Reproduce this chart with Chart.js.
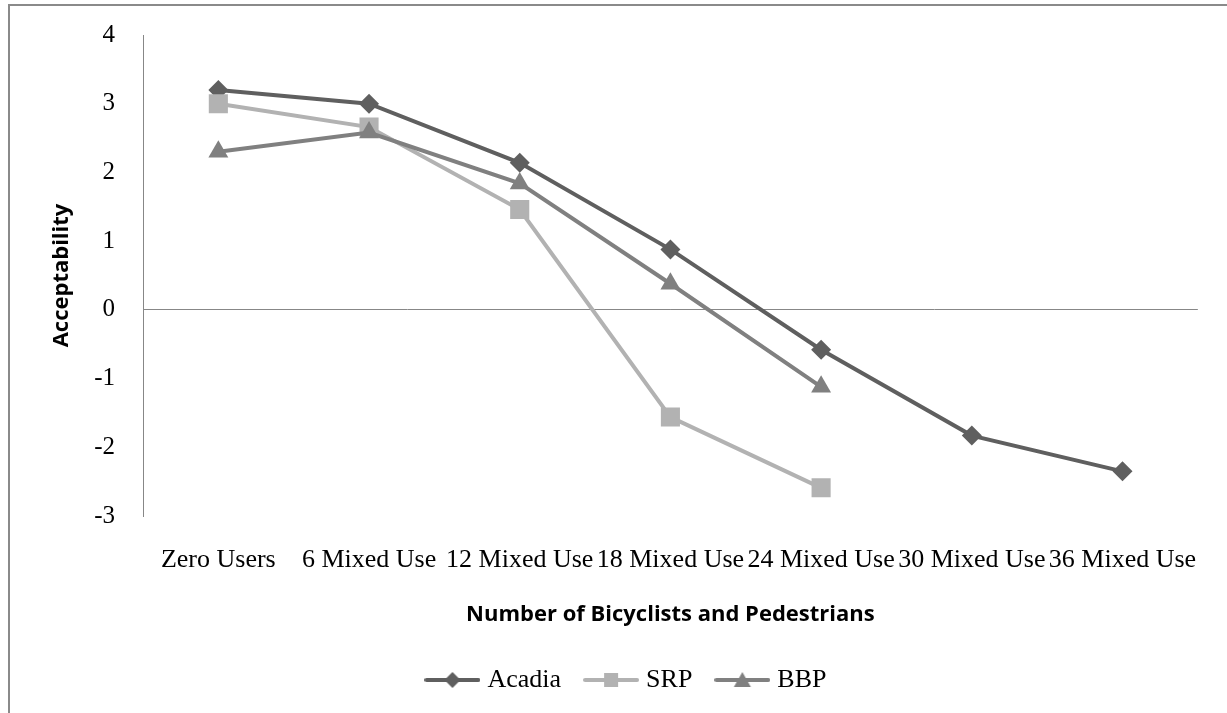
<!DOCTYPE html>
<html>
<head>
<meta charset="utf-8">
<title>Acceptability</title>
<script src="https://cdn.jsdelivr.net/npm/chart.js@4.4.1/dist/chart.umd.min.js"></script>
<style>
    html, body { margin: 0; padding: 0; background: #fff; overflow: hidden; }
    #wrap { position: relative; width: 1227px; height: 713px; }
</style>
</head>
<body>
<div id="wrap"><canvas id="chart" width="1227" height="713"></canvas></div>
<script>
var categorias = ['Zero Users', '6 Mixed Use', '12 Mixed Use', '18 Mixed Use', '24 Mixed Use', '30 Mixed Use', '36 Mixed Use'];
var acadia = [3.2, 3.0, 2.14, 0.88, -0.58, -1.83, -2.35];
var srp = [3.0, 2.66, 1.46, -1.56, -2.59, null, null];
var bbp = [2.3, 2.58, 1.84, 0.38, -1.12, null, null];
var yTicks = [-3, -2, -1, 0, 1, 2, 3, 4];

var colores = { acadia: '#5f5f5f', srp: '#b2b2b2', bbp: '#808080' };
var ejeColor = '#878787';

// little line + marker icon for each legend entry
function icono(color, forma) {
    var c = document.createElement('canvas');
    c.width = 56; c.height = 22;
    var g = c.getContext('2d');
    g.strokeStyle = color;
    g.fillStyle = color;
    g.lineWidth = 4;
    g.lineCap = 'round';
    g.beginPath(); g.moveTo(2, 11); g.lineTo(54, 11); g.stroke();
    g.beginPath();
    if (forma === 'diamond') {
        g.moveTo(28, 3); g.lineTo(36, 11); g.lineTo(28, 19); g.lineTo(20, 11);
    } else if (forma === 'square') {
        g.rect(21, 4, 14, 14);
    } else {
        g.moveTo(28, 3); g.lineTo(36.5, 18); g.lineTo(19.5, 18);
    }
    g.closePath(); g.fill();
    return c;
}
var iconos = [icono(colores.acadia, 'diamond'), icono(colores.srp, 'square'), icono(colores.bbp, 'triangle')];

// outer frame, only top and left edges fall inside the canvas
var marco = {
    id: 'marco',
    beforeDraw: function(chart) {
        var ctx = chart.ctx;
        ctx.save();
        ctx.strokeStyle = '#8a8a8a';
        ctx.lineWidth = 2;
        ctx.strokeRect(9, 5, 1240, 740);
        ctx.restore();
    }
};

// nudge the legend row right and a bit up
var moverLeyenda = {
    id: 'moverLeyenda',
    afterLayout: function(chart) {
        if (chart.legend) {
            chart.legend.left += 24;
            chart.legend.right += 24;
            chart.legend.top -= 6;
            chart.legend.bottom -= 6;
        }
    }
};

Chart.defaults.font.family = "'Liberation Serif', 'Times New Roman', serif";
Chart.defaults.color = '#000';

new Chart(document.getElementById('chart'), {
    type: 'line',
    data: {
        labels: categorias,
        datasets: [
            {
                label: 'Acadia',
                data: acadia,
                borderColor: colores.acadia,
                backgroundColor: colores.acadia,
                pointBackgroundColor: colores.acadia,
                pointStyle: 'rectRot',
                pointRadius: 10,
                order: 3
            },
            {
                label: 'SRP',
                data: srp,
                borderColor: colores.srp,
                backgroundColor: colores.srp,
                pointBackgroundColor: colores.srp,
                pointStyle: 'rect',
                pointRadius: 13.5,
                order: 2
            },
            {
                label: 'BBP',
                data: bbp,
                borderColor: colores.bbp,
                backgroundColor: colores.bbp,
                pointBackgroundColor: colores.bbp,
                pointStyle: 'triangle',
                pointRadius: 11.5,
                order: 1
            }
        ]
    },
    options: {
        responsive: false,
        animation: false,
        events: [],
        elements: {
            line: { borderWidth: 4, tension: 0, fill: false },
            point: { borderWidth: 0, hoverRadius: 0 }
        },
        layout: { padding: { left: 8, right: 26, top: 35, bottom: 4 } },
        scales: {
            x: {
                offset: true,
                grid: { display: false, drawTicks: false },
                border: { display: false },
                ticks: { font: { size: 26 }, padding: 29, maxRotation: 0, autoSkip: false },
                title: {
                    display: true,
                    text: 'Number of Bicyclists and Pedestrians',
                    font: { family: "'Open Sans', sans-serif", size: 22, weight: 'bold' },
                    padding: { top: 28.6, bottom: 16.8 }
                },
                afterFit: function(scale) { scale.height = 129; }
            },
            y: {
                min: -3,
                max: 4,
                afterBuildTicks: function(scale) {
                    scale.ticks = yTicks.map(function(v) { return { value: v }; });
                },
                grid: {
                    drawTicks: false,
                    color: function(c) { return c.tick && c.tick.value === 0 ? ejeColor : 'rgba(0,0,0,0)'; },
                    lineWidth: 1
                },
                border: { display: true, color: ejeColor, width: 1 },
                ticks: { font: { size: 25 }, padding: 28 },
                title: {
                    display: true,
                    text: 'Acceptability',
                    font: { family: "'Open Sans', sans-serif", size: 22, weight: 'bold' },
                    padding: { top: 40.8, bottom: 19 }
                },
                afterFit: function(scale) {
                    scale.width = 135;
                    scale.paddingTop = 8;
                    scale.paddingBottom = 8;
                }
            }
        },
        plugins: {
            tooltip: { enabled: false },
            legend: {
                position: 'bottom',
                labels: {
                    usePointStyle: true,
                    pointStyleWidth: 44,
                    padding: 28,
                    font: { size: 26 },
                    color: '#000',
                    generateLabels: function(chart) {
                        return chart.data.datasets.map(function(ds, i) {
                            return {
                                text: ds.label,
                                pointStyle: iconos[i],
                                fillStyle: ds.borderColor,
                                strokeStyle: ds.borderColor,
                                lineWidth: 0,
                                hidden: false,
                                datasetIndex: i
                            };
                        });
                    }
                }
            }
        }
    },
    plugins: [marco, moverLeyenda]
});
</script>
</body>
</html>
